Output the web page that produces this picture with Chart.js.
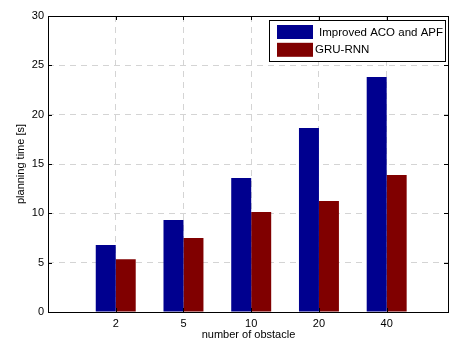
<!DOCTYPE html>
<html>
<head>
<meta charset="utf-8">
<script src="https://cdn.jsdelivr.net/npm/chart.js@4/dist/chart.umd.min.js"></script>
<style>
  html, body { margin: 0; padding: 0; background: #fff; }
  #wrap { width: 450px; height: 342px; }
</style>
</head>
<body>
<div id="wrap"><canvas id="chart" width="450" height="342"></canvas></div>
<script>
// chart data
const xLabels = ['2', '5', '10', '20', '40'];
const xPositions = [1, 2, 3, 4, 5];
const acoValues = [6.79, 9.32, 13.58, 18.65, 23.82];
const gruValues = [5.34, 7.5, 10.13, 11.25, 13.88];
const seriesNames = ['Improved ACO and APF', 'GRU-RNN'];
const seriesColors = ['#00008f', '#800000'];

const FONT = 'Liberation Sans, Arial, Helvetica, sans-serif';

function toPoints(values) {
    return values.map((v, i) => ({ x: xPositions[i], y: v }));
}

// frame, inward ticks and legend drawn the MATLAB way
const matlabFrame = {
    id: 'matlabFrame',
    afterDraw(chart) {
        const ctx = chart.ctx;
        const a = chart.chartArea;
        const xs = chart.scales.x;
        const ys = chart.scales.y;
        ctx.save();
        ctx.strokeStyle = '#000';
        ctx.lineWidth = 1;
        ctx.setLineDash([]);
        ctx.strokeRect(Math.round(a.left) + 0.5, Math.round(a.top) + 0.5,
            Math.round(a.right - a.left) - 1, Math.round(a.bottom - a.top));

        ctx.beginPath();
        xPositions.forEach(p => {
            const px = Math.round(xs.getPixelForValue(p)) + 0.5;
            ctx.moveTo(px, a.bottom); ctx.lineTo(px, a.bottom - 4);
            ctx.moveTo(px, a.top); ctx.lineTo(px, a.top + 4);
        });
        ys.ticks.forEach(t => {
            const py = Math.round(ys.getPixelForValue(t.value)) + 0.5;
            ctx.moveTo(a.left, py); ctx.lineTo(a.left + 4, py);
            ctx.moveTo(a.right - 1, py); ctx.lineTo(a.right - 5, py);
        });
        ctx.stroke();

        // legend
        const lx = 269.5, ly = 20.5, lw = 176, lh = 41;
        ctx.fillStyle = '#fff';
        ctx.fillRect(lx, ly, lw, lh);
        ctx.strokeRect(lx, ly, lw, lh);
        ctx.font = '11.5px ' + FONT;
        ctx.textBaseline = 'middle';
        const textX = [319, 315];
        seriesNames.forEach((name, i) => {
            const sy = 25 + i * 17.8;
            ctx.fillStyle = seriesColors[i];
            ctx.fillRect(277, sy, 36, 14);
            ctx.fillStyle = '#000';
            ctx.fillText(name, textX[i], sy + 7.5);
        });
        ctx.restore();
    }
};

const ctx = document.getElementById('chart').getContext('2d');
new Chart(ctx, {
    type: 'bar',
    data: {
        datasets: [
            {
                label: seriesNames[0],
                data: toPoints(acoValues),
                backgroundColor: seriesColors[0],
                borderWidth: 0,
                categoryPercentage: 0.59,
                barPercentage: 1
            },
            {
                label: seriesNames[1],
                data: toPoints(gruValues),
                backgroundColor: seriesColors[1],
                borderWidth: 0,
                categoryPercentage: 0.59,
                barPercentage: 1
            }
        ]
    },
    options: {
        responsive: false,
        animation: false,
        devicePixelRatio: 1,
        layout: { padding: { top: 16, right: 1, left: 0, bottom: 0 } },
        plugins: {
            legend: { display: false },
            tooltip: { enabled: false }
        },
        scales: {
            x: {
                type: 'linear',
                offset: false,
                min: 0,
                max: 5.92,
                afterBuildTicks: (scale) => {
                    scale.ticks = xPositions.map(v => ({ value: v }));
                },
                afterFit: (scale) => { scale.height = 30; },
                ticks: {
                    color: '#000',
                    font: { family: FONT, size: 11 },
                    padding: 5,
                    maxRotation: 0,
                    callback: (v) => xLabels[xPositions.indexOf(v)] || ''
                },
                grid: {
                    offset: false,
                    color: '#d4d4d4',
                    drawTicks: false
                },
                border: { display: false, dash: [6, 5] },
                title: {
                    display: true,
                    text: 'number of obstacle',
                    color: '#000',
                    font: { family: FONT, size: 11 },
                    padding: { top: 1, bottom: 0 }
                }
            },
            y: {
                min: 0,
                max: 30,
                afterFit: (scale) => { scale.width = 48; },
                ticks: {
                    stepSize: 5,
                    color: '#000',
                    font: { family: FONT, size: 11 },
                    padding: 4
                },
                grid: {
                    color: (c) => (c.tick.value === 0 || c.tick.value === 30) ? 'rgba(0,0,0,0)' : '#d4d4d4',
                    drawTicks: false
                },
                border: { display: false, dash: [6, 5] },
                title: {
                    display: true,
                    text: 'planning time [s]',
                    color: '#000',
                    font: { family: FONT, size: 11 },
                    padding: { top: 14, bottom: 4 }
                }
            }
        }
    },
    plugins: [matlabFrame]
});
</script>
</body>
</html>
